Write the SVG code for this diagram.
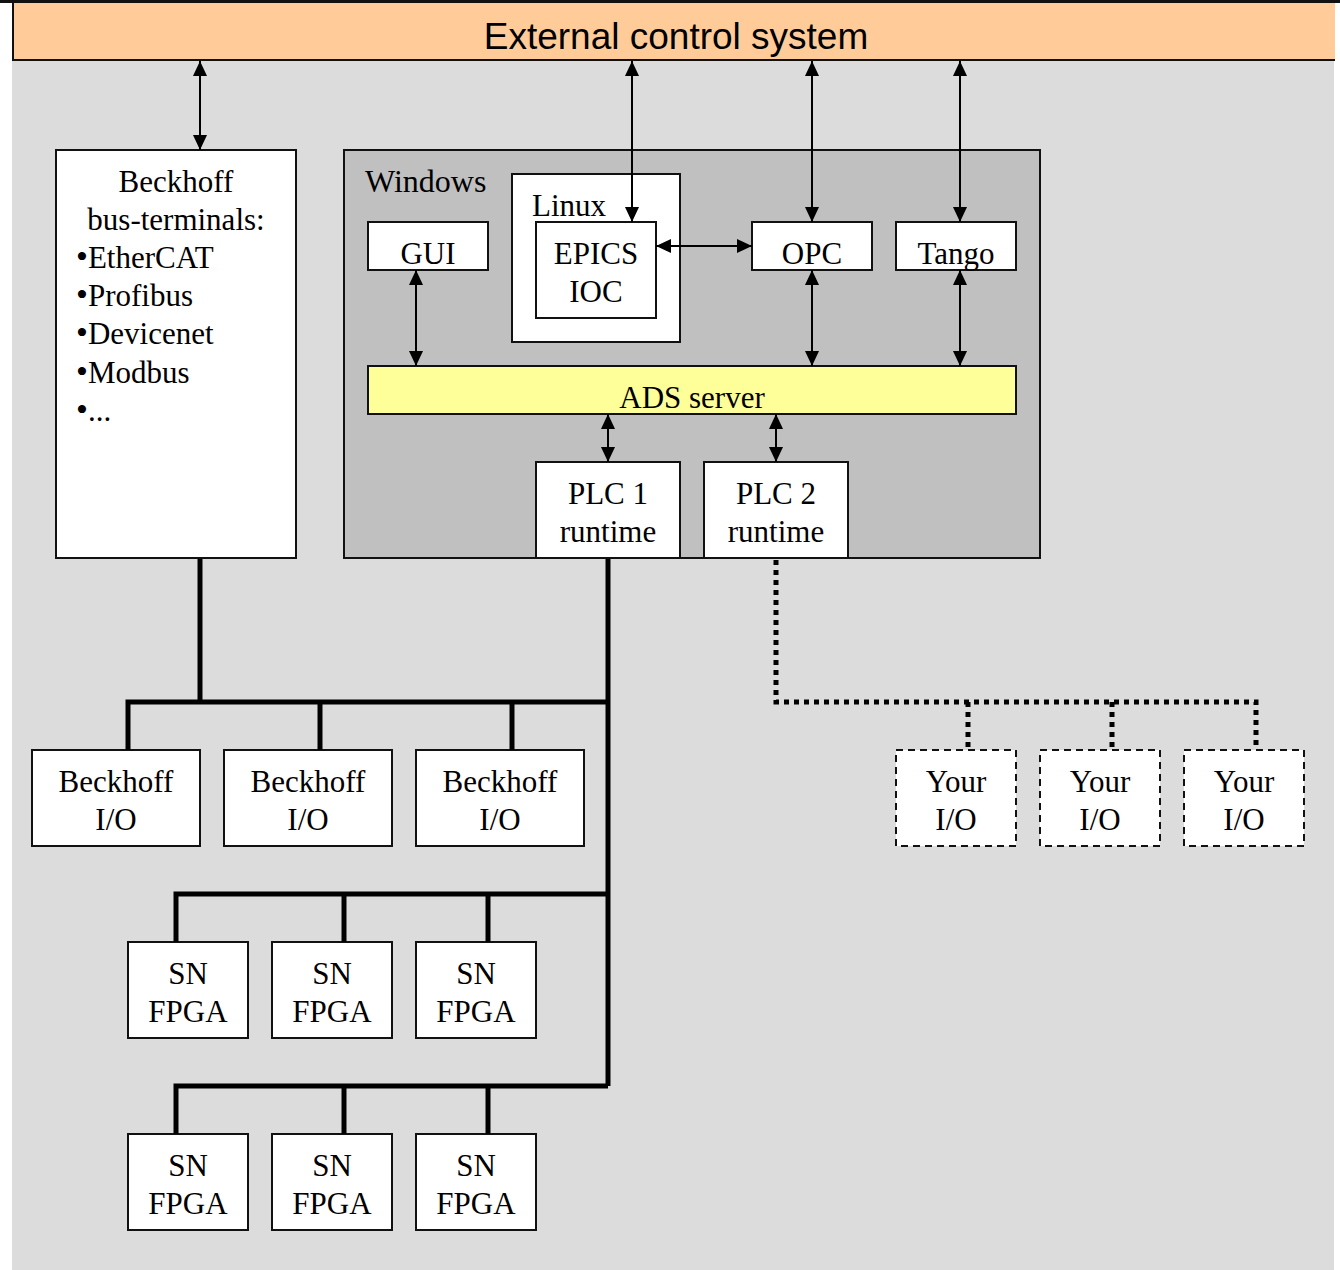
<svg xmlns="http://www.w3.org/2000/svg" width="1340" height="1270" viewBox="0 0 1340 1270">
<defs>
<style>
.box{fill:#fff;stroke:#111;stroke-width:2}
.dbox{fill:#fff;stroke:#111;stroke-width:2;stroke-dasharray:7 5}
.t{font-family:"Liberation Serif","Times New Roman",serif;font-size:31px;fill:#000}
.c{text-anchor:middle}
.b{font-size:34px}
.arr{stroke:#000;stroke-width:2;fill:none;marker-start:url(#ah);marker-end:url(#ah)}
.bus{stroke:#000;stroke-width:5;fill:none;stroke-linejoin:miter}
.dot{stroke:#000;stroke-width:5;fill:none;stroke-dasharray:5 5}
</style>
<marker id="ah" viewBox="0 0 15 14" refX="15" refY="7" markerWidth="15" markerHeight="14" markerUnits="userSpaceOnUse" orient="auto-start-reverse">
<path d="M0,0 L15,7 L0,14 z" fill="#000"/>
</marker>
</defs>
<rect x="0" y="0" width="1340" height="1270" fill="#fff"/>
<rect x="12" y="60" width="1322" height="1210" fill="#dcdcdc"/>
<rect x="0" y="0" width="1340" height="3" fill="#111"/>
<g id="external">
<rect x="13" y="3" width="1322" height="57" fill="#ffcc99"/>
<path d="M13,3 V60 H1335" fill="none" stroke="#111" stroke-width="2"/>
<text x="676" y="49" style="font-family:'Liberation Sans',Arial,sans-serif;font-size:37px;text-anchor:middle">External control system</text>
</g>
<g id="busterminals">
<rect class="box" x="56" y="150" width="240" height="408"/>
<text class="t c" x="176" y="192">Beckhoff</text>
<text class="t c" x="176" y="230">bus-terminals:</text>
<text class="t" x="76" y="268"><tspan class="b">•</tspan>EtherCAT</text>
<text class="t" x="76" y="306"><tspan class="b">•</tspan>Profibus</text>
<text class="t" x="76" y="344"><tspan class="b">•</tspan>Devicenet</text>
<text class="t" x="76" y="383"><tspan class="b">•</tspan>Modbus</text>
<text class="t" x="76" y="421"><tspan class="b">•</tspan>...</text>
</g>
<g id="windows">
<rect x="344" y="150" width="696" height="408" fill="#c0c0c0" stroke="#111" stroke-width="2"/>
<text class="t" x="365" y="192" style="font-size:32px">Windows</text>
</g>
<g id="linux">
<rect class="box" x="512" y="174" width="168" height="168"/>
<text class="t" x="532" y="216">Linux</text>
</g>
<g id="epics">
<rect class="box" x="536" y="222" width="120" height="96"/>
<text class="t c" x="596" y="264">EPICS</text>
<text class="t c" x="596" y="302">IOC</text>
</g>
<g id="gui">
<rect class="box" x="368" y="222" width="120" height="48"/>
<text class="t c" x="428" y="264">GUI</text>
</g>
<g id="opc">
<rect class="box" x="752" y="222" width="120" height="48"/>
<text class="t c" x="812" y="264">OPC</text>
</g>
<g id="tango">
<rect class="box" x="896" y="222" width="120" height="48"/>
<text class="t c" x="956" y="264">Tango</text>
</g>
<g id="ads">
<rect x="368" y="366" width="648" height="48" fill="#ffff99" stroke="#111" stroke-width="2"/>
<text class="t c" x="692" y="408">ADS server</text>
</g>
<g id="plc1">
<rect class="box" x="536" y="462" width="144" height="96"/>
<text class="t c" x="608" y="504">PLC 1</text>
<text class="t c" x="608" y="542">runtime</text>
</g>
<g id="plc2">
<rect class="box" x="704" y="462" width="144" height="96"/>
<text class="t c" x="776" y="504">PLC 2</text>
<text class="t c" x="776" y="542">runtime</text>
</g>
<g id="bio1"><rect class="box" x="32" y="750" width="168" height="96"/><text class="t c" x="116" y="792">Beckhoff</text><text class="t c" x="116" y="830">I/O</text></g>
<g id="bio2"><rect class="box" x="224" y="750" width="168" height="96"/><text class="t c" x="308" y="792">Beckhoff</text><text class="t c" x="308" y="830">I/O</text></g>
<g id="bio3"><rect class="box" x="416" y="750" width="168" height="96"/><text class="t c" x="500" y="792">Beckhoff</text><text class="t c" x="500" y="830">I/O</text></g>
<g id="yio1"><rect class="dbox" x="896" y="750" width="120" height="96"/><text class="t c" x="956" y="792">Your</text><text class="t c" x="956" y="830">I/O</text></g>
<g id="yio2"><rect class="dbox" x="1040" y="750" width="120" height="96"/><text class="t c" x="1100" y="792">Your</text><text class="t c" x="1100" y="830">I/O</text></g>
<g id="yio3"><rect class="dbox" x="1184" y="750" width="120" height="96"/><text class="t c" x="1244" y="792">Your</text><text class="t c" x="1244" y="830">I/O</text></g>
<g id="sn1"><rect class="box" x="128" y="942" width="120" height="96"/><text class="t c" x="188" y="984">SN</text><text class="t c" x="188" y="1022">FPGA</text></g>
<g id="sn2"><rect class="box" x="272" y="942" width="120" height="96"/><text class="t c" x="332" y="984">SN</text><text class="t c" x="332" y="1022">FPGA</text></g>
<g id="sn3"><rect class="box" x="416" y="942" width="120" height="96"/><text class="t c" x="476" y="984">SN</text><text class="t c" x="476" y="1022">FPGA</text></g>
<g id="sn4"><rect class="box" x="128" y="1134" width="120" height="96"/><text class="t c" x="188" y="1176">SN</text><text class="t c" x="188" y="1214">FPGA</text></g>
<g id="sn5"><rect class="box" x="272" y="1134" width="120" height="96"/><text class="t c" x="332" y="1176">SN</text><text class="t c" x="332" y="1214">FPGA</text></g>
<g id="sn6"><rect class="box" x="416" y="1134" width="120" height="96"/><text class="t c" x="476" y="1176">SN</text><text class="t c" x="476" y="1214">FPGA</text></g>
<g id="connectors">
<line class="arr" x1="200" y1="61" x2="200" y2="150"/>
<line class="arr" x1="632" y1="61" x2="632" y2="222"/>
<line class="arr" x1="812" y1="61" x2="812" y2="222"/>
<line class="arr" x1="960" y1="61" x2="960" y2="222"/>
<line class="arr" x1="656" y1="246" x2="752" y2="246"/>
<line class="arr" x1="416" y1="270" x2="416" y2="366"/>
<line class="arr" x1="812" y1="270" x2="812" y2="366"/>
<line class="arr" x1="960" y1="270" x2="960" y2="366"/>
<line class="arr" x1="608" y1="414" x2="608" y2="462"/>
<line class="arr" x1="776" y1="414" x2="776" y2="462"/>
<path class="bus" d="M200,559 V702"/>
<path class="bus" d="M608,559 V1086"/>
<path class="bus" d="M128,750 V702 H608"/>
<path class="bus" d="M320,702 V750 M512,702 V750"/>
<path class="bus" d="M176,942 V894 H608"/>
<path class="bus" d="M344,894 V942 M488,894 V942"/>
<path class="bus" d="M176,1134 V1086 H608"/>
<path class="bus" d="M344,1086 V1134 M488,1086 V1134"/>
<path class="dot" d="M776,560 V702 H1256 V750"/>
<path class="dot" d="M968,702 V750 M1112,702 V750"/>
</g>
</svg>
